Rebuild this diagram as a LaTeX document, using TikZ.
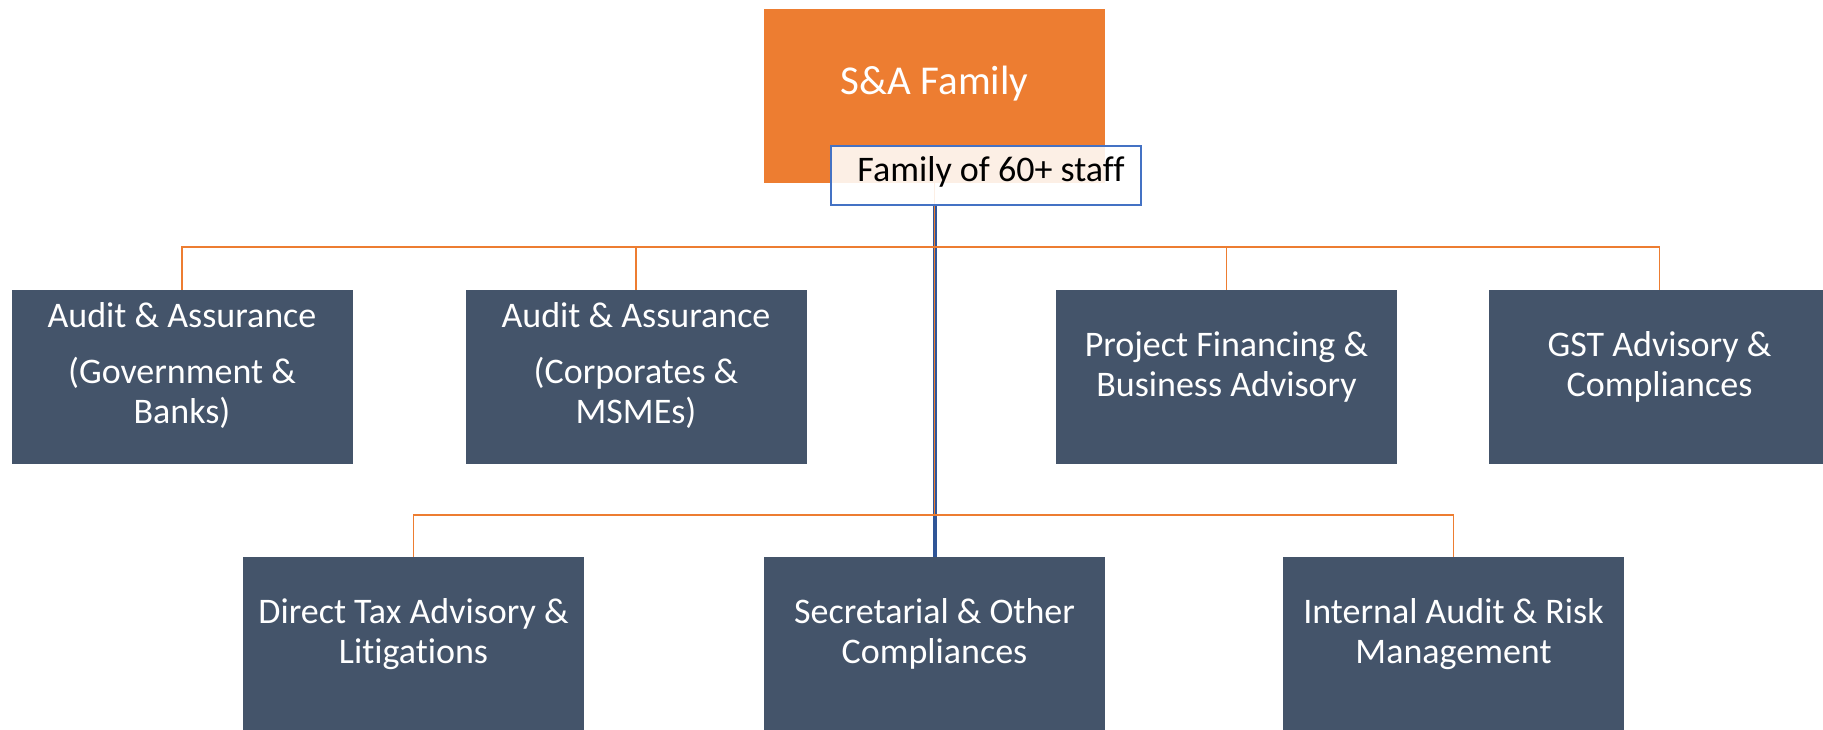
\documentclass[tikz,border=0pt]{standalone}
\usepackage{fontspec}
\setmainfont{Carlito}[RawFeature={-liga;-clig;-dlig}]
\definecolor{accorange}{HTML}{ED7D31}
\definecolor{slate}{HTML}{44546A}
\definecolor{famblue}{HTML}{4472C4}
\definecolor{darkblue}{HTML}{2F5597}
\tikzset{
  unitbox/.style={rectangle, inner sep=0pt, minimum width=341pt, minimum height=174pt, fill=slate, draw=none},
  topbox/.style={rectangle, inner sep=0pt, minimum width=341pt, minimum height=174pt, fill=accorange, draw=none},
  boxtext/.style={text=white, align=center, inner sep=0pt, font=\fontsize{36}{39.5}\selectfont},
  conn/.style={draw=accorange, line width=1.5pt},
  blueline/.style={draw=darkblue, line width=4pt},
}
\begin{document}
\begin{tikzpicture}[x=1pt, y=-1pt]
\clip (0,0) rectangle (1823,730);
\fill[white] (0,0) rectangle (1823,730);

% boxes
\node[topbox] (top) at (934.5,96) {};
\node[unitbox] (b1) at (182,377) {};
\node[unitbox] (b2) at (636,377) {};
\node[unitbox] (b3) at (1226.5,377) {};
\node[unitbox] (b4) at (1659.5,377) {};
\node[unitbox] (c1) at (413.5,644) {};
\node[unitbox] (c2) at (934.5,644) {};
\node[unitbox] (c3) at (1453.5,644) {};

% connectors
\coordinate (j1) at (934.5,247);
\coordinate (j2) at (934.5,515);
\draw[blueline] (934.5,205) -- (c2.north);
\draw[conn] (top.south) -- (j2);
\draw[conn] (b1.north) -- (b1.north |- j1) -- (b4.north |- j1) -- (b4.north);
\draw[conn] (b2.north) -- (b2.north |- j1);
\draw[conn] (b3.north) -- (b3.north |- j1);
\draw[conn] (c1.north) -- (c1.north |- j2) -- (c3.north |- j2) -- (c3.north);

% family box
\node[rectangle, minimum width=310pt, minimum height=59pt, inner sep=0pt,
      fill=white, fill opacity=0.88, draw=famblue, draw opacity=1, line width=2pt] (fam) at (986,175.5) {};

% texts
\node[text=white, inner sep=0pt, font=\fontsize{41}{45}\selectfont] (toptext) at (934.5,84) {S\&A Family};
\node[text=black, inner sep=0pt, font=\fontsize{36}{40}\selectfont] (famtext) at (991,172) {Family of 60+ staff};

\node[boxtext] (t1) at (182,365) {Audit \& Assurance\\[17pt](Government \&\\Banks)};
\node[boxtext] (t2) at (636,365) {Audit \& Assurance\\[17pt](Corporates \&\\MSMEs)};
\node[boxtext] (t3) at (1226.5,367) {Project Financing \&\\Business Advisory};
\node[boxtext] (t4) at (1659.5,367) {GST Advisory \&\\Compliances};
\node[boxtext] (u1) at (413.5,634) {Direct Tax Advisory \&\\Litigations};
\node[boxtext] (u2) at (934.5,634) {Secretarial \& Other\\Compliances};
\node[boxtext] (u3) at (1453.5,634) {Internal Audit \& Risk\\Management};
\end{tikzpicture}
\end{document}
